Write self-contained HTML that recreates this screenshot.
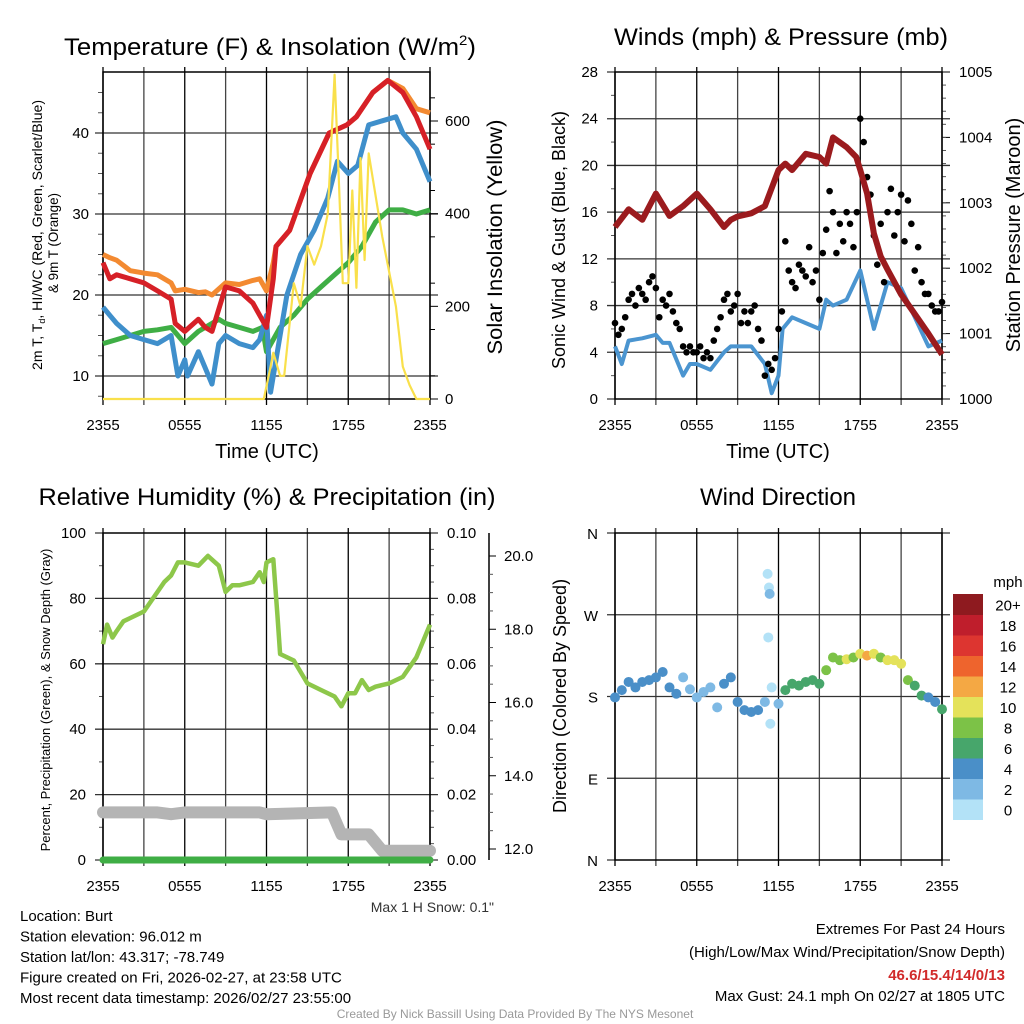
<!DOCTYPE html>
<html><head><meta charset="utf-8"><style>
body{margin:0;background:#fff}
svg{display:block;font-family:"Liberation Sans",Arial,sans-serif}
</style></head><body>
<svg id="fig" width="1024" height="1024" viewBox="0 0 1024 1024">
<g id="bg"></g>
</svg>
<script>
// ---------- DATA ----------
const tempHours   = [0,0.5,1,2,3,4,5,5.3,6,7,7.5,8,9,10,11,11.5,12,12.5,12.7,13.7,15.2,16.6,17.9,18.6,19.8,20.9,22,23,24];
const temp9m      = [25,24.6,24.3,23,22.7,22.5,21.5,20.5,20.7,20.3,20.4,20,21.5,21.3,21.8,22,20.5,24,26,28,35,40,41,42,45,46.5,45.5,43,42.5];
const temp2m      = [24,22,22.5,22,21.5,20.5,19.5,16.5,15.5,17,16,15.5,21,20.5,19,17.5,16,22,26,28,35,40,41,42,45,46.5,45,42,38];
const dewHours    = [0,0.5,1,2,3,4,5,5.5,6,6.2,7,8,8.5,9,10,11,11.5,12,12.3,12.7,13.5,14.5,15.5,16.5,17.2,18,18.7,19.5,20.5,21.5,22,23,24];
const dewPoint    = [18.5,17.5,16.5,15,14.5,14,15,10,12,10,13,9,14,15,14,13.5,14.5,17.5,8,12,20,25,28,32,36.5,35,36,41,41.5,42,40,38,34];
const tdHours     = [0,1,2,3,4,5,6,7,8,8.5,9,10,11,11.7,12,13,14,15,16,17,18,19,20,21,22,23,24];
const tdGreen     = [14,14.5,15,15.5,15.7,16,14,15.5,16.5,17,16.5,16,15.5,16,13,16,17.5,19.5,21,22.5,24,26,29,30.5,30.5,30,30.5];
const solarHours  = [0,11.8,12.3,12.5,13,13.3,14,14.5,15,15.5,16,16.5,17,17.3,17.6,18,18.3,18.6,18.9,19.2,19.5,20.5,21.5,22,22.5,23,24];
const solarWm2    = [0,0,70,100,50,50,250,200,330,290,330,400,700,480,250,250,450,240,520,300,530,350,200,70,30,0,0];
const tempTicks   = [10,20,30,40];
const solarTicks  = [0,200,400,600];

const windHours   = [0,0.5,1,2,3,3.5,4,5,5.5,6,7,8,8.5,9,10,11,11.5,12,12.3,13,14,15,15.5,16,17,18,19,20,21,22,23,24];
const sonicWind   = [4.5,3,5,5.2,5.5,4.8,4.8,2,3,3,2.5,4,4.5,4.5,4.5,3,0.5,2,6,7,6.5,6,8.5,8,8.5,11,6,10,9.5,7,4.5,5];
const gustWind    = [6.5,5.5,6,7,8.5,9,8,9.5,9,8.5,10,10.5,9.5,7,8.5,8,9,7.5,6.5,6,4.5,4,4.5,4,4,4.5,3.5,4,3.5,5,6,7,8.5,9,7.5,8,9,6.5,7.5,6.5,7.5,8,6,5,2,3,2.5,3.5,6,7.5,13.5,11,10,9.5,11.5,11,10.5,13,10,11,8.5,12.5,14.5,17.8,16,12.5,15,13.5,16,15,13,16,24,22,19,17.5,14,11.5,15,10,16,18,14,16,17.5,13.5,17,15,11,13,10,9,9,8,7.5,7.5,8.3];
const presHours   = [0,1,2,3,4,5,6,7,8,8.5,9,10,11,12,12.5,13,14,15,15.5,16,17,17.7,18,18.5,19,19.5,20,21,22,23,24];
const pressure    = [1002.63,1002.9,1002.74,1003.14,1002.8,1002.95,1003.14,1002.9,1002.63,1002.74,1002.79,1002.84,1002.95,1003.5,1003.6,1003.5,1003.75,1003.7,1003.6,1004.0,1003.85,1003.7,1003.5,1003.14,1002.53,1002.18,1001.98,1001.6,1001.3,1001.0,1000.68];
const windTicks   = [0,4,8,12,16,20,24,28];
const presTicks   = [1000,1001,1002,1003,1004,1005];

const rhHours     = [0,0.3,0.7,1,1.5,2,3,4,4.5,5,5.5,6,7,7.7,8.5,9,9.5,10,11,11.5,11.8,12,12.5,12.8,13,14,15,16,17,17.5,18,18.5,19,19.5,20,21,22,23,24];
const relHum      = [66,72,68,70,73,74,76,82,85,87,91,91,90,93,90,82,84,84,85,88,85,91,92,75,63,61,54,52,50,47,51,51,55,52,53,54,56,62,72];
const snowHours   = [0,4,5,6,8,11.5,12,16.8,17.5,19.5,20.5,24];
const snowDepth   = [13.0,13.0,12.95,13.0,13.0,13.0,12.95,13.0,12.4,12.4,11.95,11.95];
const precipHours = [0,24];
const precipIn    = [0,0];
const rhTicks     = [0,20,40,60,80,100];
const prTicks     = ["0.00","0.02","0.04","0.06","0.08","0.10"];
const snowTicks   = [12,14,16,18,20];

const dirHours    = [0,0.5,1,1.5,2,2.5,3,3.5,4,4.5,5,5.5,6,6.5,7,7.5,8,8.5,9,9.5,10,10.5,11,11.5,12,12.5,13,13.5,14,14.5,15,15.5,16,16.5,17,17.5,18,18.5,19,19.5,20,20.5,21,21.5,22,22.5,23,23.5,24,11.2,11.3,11.35,11.25,11.4];
const dirDeg      = [179,187,196,190,196,198,201,207,190,183,201,188,179,185,190,168,194,201,174,165,163,165,174,190,172,187,194,192,196,198,194,209,223,220,221,223,227,225,227,223,220,220,216,198,192,181,179,174,166,315,300,293,245,150];
const dirSpeed    = [4,4.5,5,5,5,5.5,5.5,5,5,4,3,3.5,3,3,2.5,3,4,4.5,4.5,4,4.5,4.5,3.5,1.5,2,6.5,7,6.5,6.5,6,6.5,9,8.5,9,10,8.5,11,13,10,9,10.5,10,10.5,8,6,6,4.5,5,6.5,1,1.5,2.5,1,1];
const dirLabels   = ["N","E","S","W","N"];
const cbLabels    = ["0","2","4","6","8","10","12","14","16","18","20+"];
const cbColors    = ["#b3e2f7","#7eb9e4","#4a8fc8","#47a66b","#7cc247","#e4e25a","#f4a844","#ee642d","#dd3530","#bf1e2c","#8e1a1f"];
const timeLabels  = ["2355","0555","1155","1755","2355"];

// ---------- HELPERS ----------
const NS="http://www.w3.org/2000/svg";
const svg=document.getElementById('fig');
function mk(tag,attrs,parent,name,inter){const e=document.createElementNS(NS,tag);for(const k in attrs)e.setAttribute(k,attrs[k]);(parent||svg).appendChild(e);


return e;}
function txt(s,x,y,size,anchor,parent,name,extra){const t=mk('text',Object.assign({x:x,y:y,'font-size':size,'text-anchor':anchor||'middle',fill:'#000'},extra||{}),parent,name);t.textContent=s;return t;}
function lin(d0,d1,r0,r1){return v=>r0+(v-d0)/(d1-d0)*(r1-r0);}
function pathD(xs,ys,fx,fy){return xs.map((h,i)=>(i?'L':'M')+fx(h).toFixed(1)+','+fy(ys[i]).toFixed(1)).join(' ');}

const L=103,R=430,L2=615,R2=942;
function frame(x0,x1,y0,y1,name){
  const g=mk('g',{},svg,name);
  const fx=lin(0,24,x0,x1);
  for(let h=0;h<=24;h+=3){
    const x=fx(h);
    mk('line',{x1:x,y1:y0-5,x2:x,y2:y1+6,stroke:(h%6===0?'#000':'#444'),'stroke-width':1.3},g,'v-gridline');
  }
  for(let i=0;i<5;i++) txt(timeLabels[i],fx(i*6),y1+31,15,'middle',g,'x-tick-label');
  return {g,fx};
}
function hgrid(g,x0,x1,y){
  mk('line',{x1:x0-8,y1:y,x2:x1+8,y2:y,stroke:'#333','stroke-width':1.3},g,'h-gridline');
}
const sq={'lengthAdjust':'spacingAndGlyphs'};

// ---------- PANEL 1: Temperature ----------
(function(){
  const y0=72,y1=399;
  const {g,fx}=frame(L,R,y0,y1,'temperature-panel');
  const fy=lin(10,40,376,133), fs=lin(0,600,399,121);
  tempTicks.forEach(v=>{hgrid(g,L,R,fy(v));txt(String(v),L-14,fy(v)+5,15,'end',g,'y-tick-label');});
  solarTicks.forEach(v=>{mk('line',{x1:R,y1:fs(v),x2:R+8,y2:fs(v),stroke:'#000'},g,'right-tick');txt(String(v),R+15,fs(v)+5,15,'start',g,'right-tick-label');});
  for(let v=50;v<700;v+=100){if(fs(v)>y0)mk('line',{x1:R,y1:fs(v),x2:R+5,y2:fs(v),stroke:'#000'},g,'minor-tick');}
  for(let v=7.5;v<47;v+=2.5){if(v%10)mk('line',{x1:L-5,y1:fy(v),x2:L,y2:fy(v),stroke:'#555'},g,'minor-tick');}
  mk('rect',{x:L,y:y0,width:R-L,height:y1-y0,fill:'none',stroke:'#000','stroke-width':1.5},g,'plot-frame');
  mk('path',{d:pathD(tdHours,tdGreen,fx,fy),fill:'none',stroke:'#3fae45','stroke-width':5,'stroke-linejoin':'round'},g,'dewpoint-line');
  mk('path',{d:pathD(dewHours,dewPoint,fx,fy),fill:'none',stroke:'#3f8fcb','stroke-width':5,'stroke-linejoin':'round'},g,'windchill-line');
  mk('path',{d:pathD(tempHours,temp9m,fx,fy),fill:'none',stroke:'#f38a31','stroke-width':5,'stroke-linejoin':'round'},g,'temp-9m-line');
  mk('path',{d:pathD(tempHours,temp2m,fx,fy),fill:'none',stroke:'#d62027','stroke-width':5,'stroke-linejoin':'round'},g,'temp-2m-line');
  mk('path',{d:pathD(solarHours,solarWm2,fx,fs),fill:'none',stroke:'#f9e04b','stroke-width':2.2,'stroke-linejoin':'round'},g,'solar-line');
  const t=txt('',270,55,24,'middle',g,'temperature-title',Object.assign({textLength:412},sq));
  t.innerHTML='Temperature (F) &amp; Insolation (W/m<tspan font-size="14" dy="-10">2</tspan><tspan dy="10">)</tspan>';
  txt('Time (UTC)',267,458,20,'middle',g,'x-axis-title');
  const yl=txt('',0,0,14,'middle',g,'temperature-y-axis-title',Object.assign({transform:'translate(42,235) rotate(-90)',textLength:270},sq));
  yl.innerHTML='2m T, T<tspan font-size="9" dy="3">d</tspan><tspan dy="-3">, HI/WC (Red, Green, Scarlet/Blue)</tspan>';
  txt('& 9m T (Orange)',0,0,14,'middle',g,'temperature-y-axis-title-2',Object.assign({transform:'translate(58,243) rotate(-90)',textLength:100},sq));
  txt('Solar Insolation (Yellow)',0,0,21,'middle',g,'solar-axis-title',Object.assign({transform:'translate(502,237) rotate(-90)',textLength:235},sq));
})();

// ---------- PANEL 2: Winds ----------
(function(){
  const y0=72,y1=399;
  const {g,fx}=frame(L2,R2,y0,y1,'winds-panel');
  const fy=lin(0,28,y1,y0), fp=lin(1000,1005,y1,y0);
  windTicks.forEach(v=>{if(v>0&&v<28)hgrid(g,L2,R2,fy(v));else mk('line',{x1:L2-8,y1:fy(v),x2:L2,y2:fy(v),stroke:'#000'},g,'tick');txt(String(v),L2-17,fy(v)+5,15,'end',g,'y-tick-label');});
  presTicks.forEach(v=>{mk('line',{x1:R2,y1:fp(v),x2:R2+8,y2:fp(v),stroke:'#000'},g,'right-tick');txt(String(v),R2+17,fp(v)+5,15,'start',g,'right-tick-label');});
  for(let v=1000.2;v<1005;v+=0.2){mk('line',{x1:R2,y1:fp(v),x2:R2+4,y2:fp(v),stroke:'#555'},g,'minor-tick');}
  for(let v=2;v<28;v+=4){mk('line',{x1:L2-4,y1:fy(v),x2:L2,y2:fy(v),stroke:'#555'},g,'minor-tick');}
  mk('rect',{x:L2,y:y0,width:R2-L2,height:y1-y0,fill:'none',stroke:'#000','stroke-width':1.5},g,'plot-frame');
  mk('path',{d:pathD(windHours,sonicWind,fx,fy),fill:'none',stroke:'#4b95d0','stroke-width':4,'stroke-linejoin':'round'},g,'sonic-wind-line');
  gustWind.forEach((v,i)=>{mk('circle',{cx:fx(i*0.25),cy:fy(v),r:3.3,fill:'#000'},g,'gust-point');});
  mk('path',{d:pathD(presHours,pressure,fx,fp),fill:'none',stroke:'#9b1b1e','stroke-width':6,'stroke-linejoin':'round'},g,'pressure-line');
  txt('Winds (mph) & Pressure (mb)',781,45,24,'middle',g,'winds-title',Object.assign({textLength:334},sq));
  txt('Time (UTC)',778,458,20,'middle',g,'x-axis-title');
  txt('Sonic Wind & Gust (Blue, Black)',0,0,18,'middle',g,'wind-y-axis-title',{transform:'translate(565,240) rotate(-90)'});
  txt('Station Pressure (Maroon)',0,0,20,'middle',g,'pressure-axis-title',{transform:'translate(1020,235) rotate(-90)'});
})();

// ---------- PANEL 3: Humidity ----------
(function(){
  const y0=533,y1=860;
  const {g,fx}=frame(L,R,y0,y1,'humidity-panel');
  const fy=lin(0,100,y1,y0), fsn=lin(12,20,849,556);
  rhTicks.forEach((v,i)=>{if(v>0&&v<100)hgrid(g,L,R,fy(v));else mk('line',{x1:L-8,y1:fy(v),x2:R+8,y2:fy(v),stroke:'#000'},g,'tick');txt(String(v),L-17,fy(v)+5,15,'end',g,'y-tick-label');txt(prTicks[i],R+17,fy(v)+5,15,'start',g,'right-tick-label');});
  for(let v=10;v<100;v+=20){mk('line',{x1:L-4,y1:fy(v),x2:L,y2:fy(v),stroke:'#555'},g,'minor-tick');}
  for(let v=5;v<100;v+=5){if(v%20)mk('line',{x1:R,y1:fy(v),x2:R+4,y2:fy(v),stroke:'#555'},g,'minor-tick');}
  mk('line',{x1:489,y1:y0,x2:489,y2:y1,stroke:'#000','stroke-width':1.5},g,'snow-axis-line');
  snowTicks.forEach(v=>{mk('line',{x1:489,y1:fsn(v),x2:496,y2:fsn(v),stroke:'#000'},g,'snow-tick');txt(v.toFixed(1),504,fsn(v)+5,15,'start',g,'snow-tick-label');});
  for(let v=12.5;v<20.5;v+=0.5){if(v%2)mk('line',{x1:489,y1:fsn(v),x2:493,y2:fsn(v),stroke:'#555'},g,'minor-tick');}
  mk('rect',{x:L,y:y0,width:R-L,height:y1-y0,fill:'none',stroke:'#000','stroke-width':1.5},g,'plot-frame');
  mk('path',{d:pathD(snowHours,snowDepth,fx,fsn),fill:'none',stroke:'#b4b4b4','stroke-width':12,'stroke-linejoin':'round','stroke-linecap':'round'},g,'snow-depth-line');
  mk('path',{d:pathD(precipHours,precipIn,fx,lin(0,0.1,y1,y0)),fill:'none',stroke:'#3fae45','stroke-width':7,'stroke-linecap':'round'},g,'precip-line');
  mk('path',{d:pathD(rhHours,relHum,fx,fy),fill:'none',stroke:'#8dc74a','stroke-width':4.5,'stroke-linejoin':'round'},g,'rh-line');
  txt('Relative Humidity (%) & Precipitation (in)',267,505,24,'middle',g,'humidity-title',Object.assign({textLength:457},sq));
  txt('Percent, Precipitation (Green), & Snow Depth (Gray)',0,0,13,'middle',g,'humidity-y-axis-title',{transform:'translate(50,700) rotate(-90)'});
  txt('Max 1 H Snow: 0.1"',494,912,14,'end',g,'max-snow-note',{fill:'#333'});
})();

// ---------- PANEL 4: Wind Direction ----------
(function(){
  const y0=533,y1=860;
  const {g,fx}=frame(L2,R2,y0,y1,'direction-panel');
  const fy=lin(0,360,y1,y0);
  dirLabels.forEach((s,i)=>{const v=i*90;if(i>0&&i<4)hgrid(g,L2,R2,fy(v));else mk('line',{x1:L2-8,y1:fy(v),x2:R2+8,y2:fy(v),stroke:'#000'},g,'tick');txt(s,L2-17,fy(v)+6,15,'end',g,'direction-tick-label');});
  mk('rect',{x:L2,y:y0,width:R2-L2,height:y1-y0,fill:'none',stroke:'#000','stroke-width':1.5},g,'plot-frame');
  dirHours.forEach((h,i)=>{const c=cbColors[Math.min(10,Math.floor(dirSpeed[i]/2))];
    mk('circle',{cx:fx(h),cy:fy(dirDeg[i]),r:5,fill:c},g,'direction-point');});
  const cbx=953,cby=594,ch=20.5;
  cbColors.forEach((c,i)=>{const y=cby+(10-i)*ch;mk('rect',{x:cbx,y:y,width:30,height:ch+0.5,fill:c},g,'colorbar-box');txt(cbLabels[i],1008,y+ch/2+6,15,'middle',g,'colorbar-label');});
  txt('mph',1008,587,15,'middle',g,'colorbar-title');
  txt('Wind Direction',778,505,24,'middle',g,'direction-title');
  txt('Direction (Colored By Speed)',0,0,18,'middle',g,'direction-y-axis-title',{transform:'translate(566,696) rotate(-90)'});
})();

// ---------- FOOTER TEXT ----------
const info=["Location: Burt","Station elevation: 96.012 m","Station lat/lon: 43.317; -78.749","Figure created on Fri, 2026-02-27, at 23:58 UTC","Most recent data timestamp: 2026/02/27 23:55:00"];
info.forEach((s,i)=>txt(s,20,921+i*20.5,15,'start',svg,'station-info-line'));
txt('Extremes For Past 24 Hours',1005,934,15,'end',svg,'extremes-title');
txt('(High/Low/Max Wind/Precipitation/Snow Depth)',1005,957,15,'end',svg,'extremes-subtitle');
txt('46.6/15.4/14/0/13',1005,980,15,'end',svg,'extremes-values',{fill:'#d12a2a','font-weight':'bold'});
txt('Max Gust: 24.1 mph On 02/27 at 1805 UTC',1005,1001,15,'end',svg,'max-gust-note');
txt('Created By Nick Bassill Using Data Provided By The NYS Mesonet',515,1018,12,'middle',svg,'credit-footer',{fill:'#999'});
</script>
</body></html>
